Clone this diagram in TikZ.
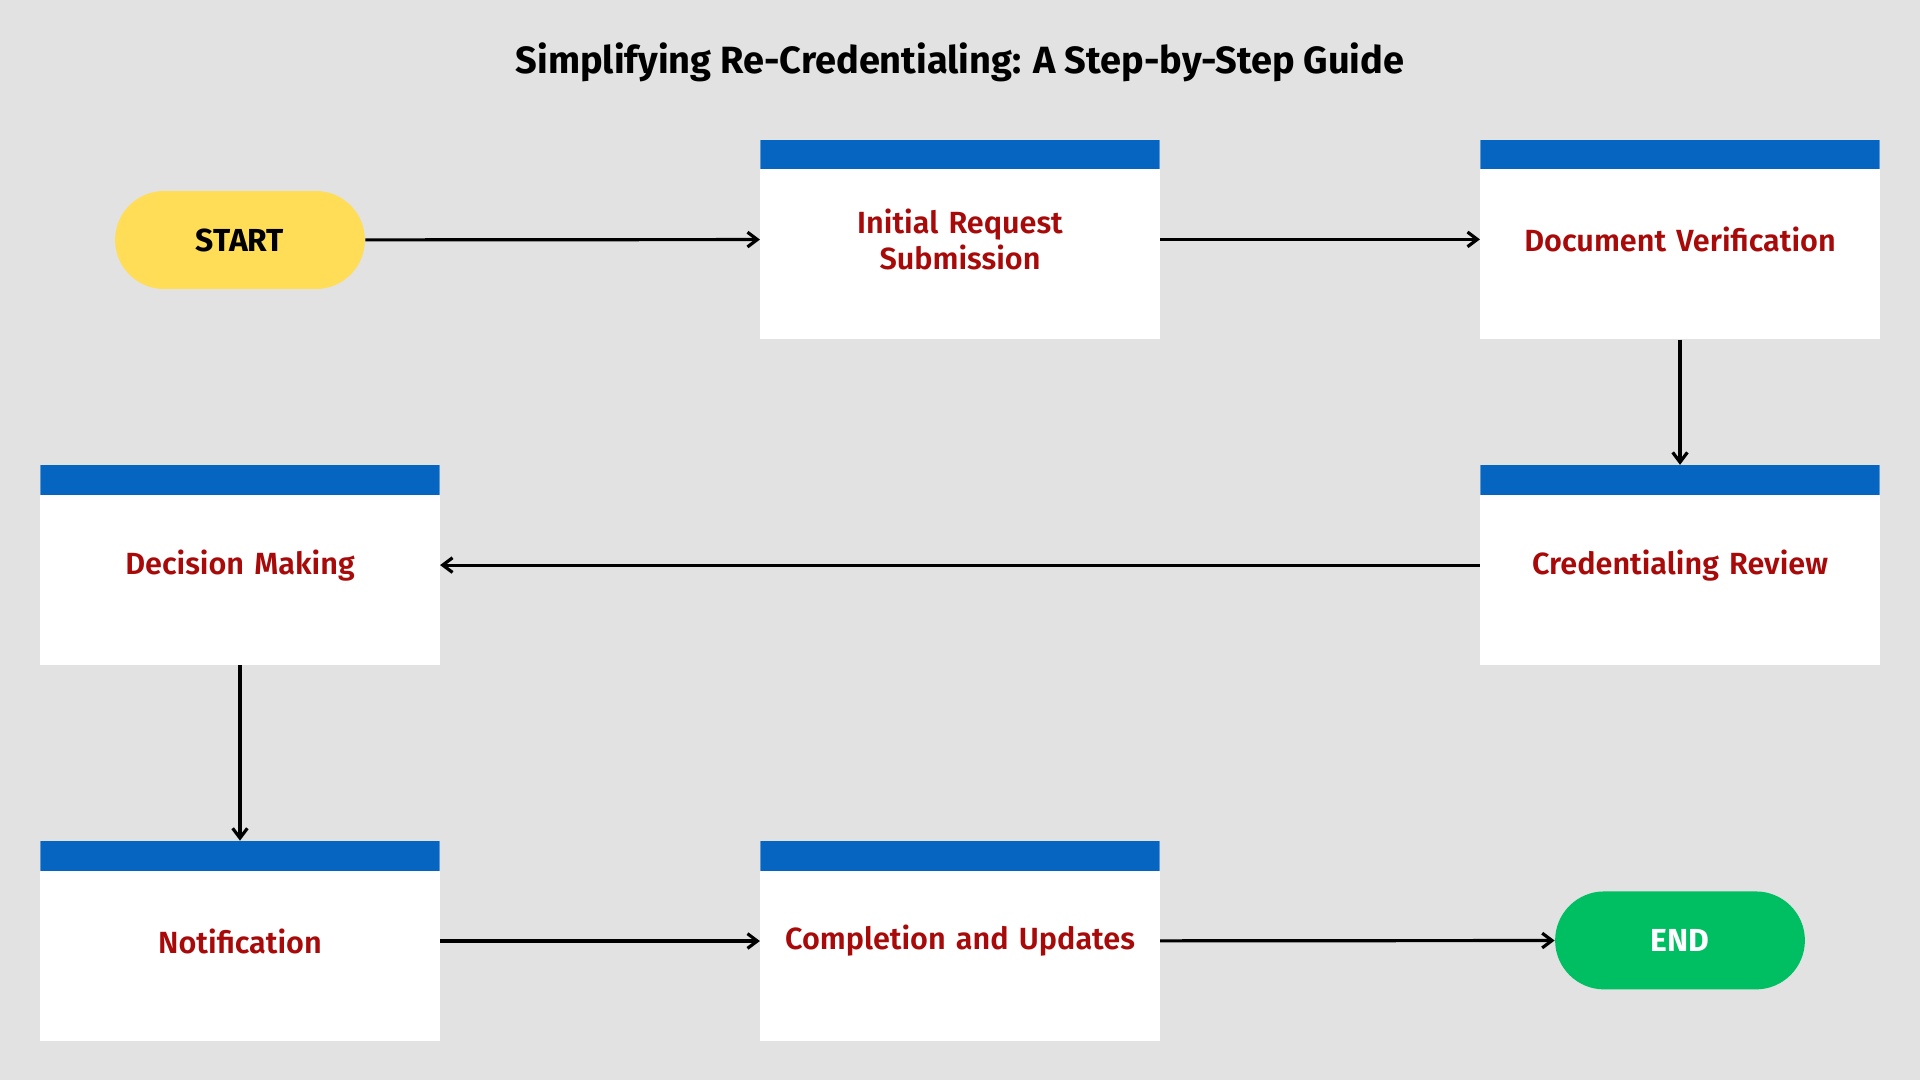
\documentclass[tikz,border=0pt]{standalone}
\usepackage{fontspec}
\setmainfont{Fira Sans}
\newfontfamily\fsb{Fira Sans SemiBold}
\usetikzlibrary{arrows.meta}
\definecolor{bg}{HTML}{E2E2E2}
\definecolor{hdr}{HTML}{0565C0}
\definecolor{lbl}{HTML}{A80A0A}
\definecolor{yel}{HTML}{FFDD57}
\definecolor{grn}{HTML}{00BF63}
\tikzset{
 stepbox/.style={fill=white,minimum width=163pt,minimum height=81.5pt,inner sep=0pt,
   text width=150pt,align=center,font=\fsb\fontsize{12.5}{14.5}\selectfont,text=lbl,
   path picture={\fill[hdr]([yshift=-12pt]path picture bounding box.north west) rectangle (path picture bounding box.north east);}},
 term/.style={rounded corners=20pt,minimum width=102pt,minimum height=40pt,inner sep=0pt,font=\bfseries\fontsize{13}{15}\selectfont},
 arr/.style={-{Straight Barb[length=4pt,width=6pt]},line width=1.3pt}
}
\begin{document}
\begin{tikzpicture}[x=0.5pt,y=-0.5pt]
\fill[bg] (0,0) rectangle (1568,882);
\useasboundingbox (0,0) rectangle (1568,882);
\node[font=\bfseries\fontsize{15.5}{18}\selectfont] (title) at (784,51) {Simplifying Re-Credentialing: A Step-by-Step Guide};
\node[term,fill=yel] (start) at (196,196) {START};
\node[stepbox] (b1) at (784,195.5) {Initial Request Submission};
\node[stepbox] (b2) at (1372,195.5) {Document Verification};
\node[stepbox] (b3) at (1372,461.5) {Credentialing Review};
\node[stepbox] (b4) at (196,461.5) {Decision Making};
\node[stepbox] (b5) at (196,768.5) {Notification};
\node[stepbox] (b6) at (784,768.5) {Completion and Updates};
\node[term,fill=grn,text=white] (end) at (1372,768) {END};
\draw[arr] (start) -- (b1);
\draw[arr] (b1) -- (b2);
\draw[arr] (b2) -- (b3);
\draw[arr] (b3) -- (b4);
\draw[arr] (b4) -- (b5);
\draw[arr] (b5) -- (b6);
\draw[arr] (b6) -- (end);
\end{tikzpicture}
\end{document}
